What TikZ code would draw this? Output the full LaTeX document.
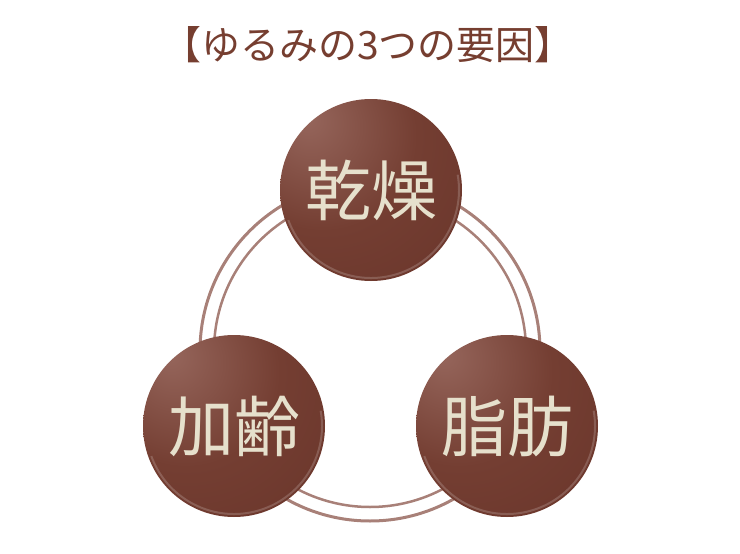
\documentclass[tikz,border=0pt]{standalone}
\usepackage{fontspec}
\setmainfont{Noto Sans CJK JP}
\usetikzlibrary{positioning, calc}
\usepackage{xcolor}

\definecolor{titlebrown}{RGB}{118,62,48}
\definecolor{ringbrown}{RGB}{168,128,120}
\definecolor{balllight}{RGB}{150,102,92}
\definecolor{ballmid}{RGB}{116,62,50}
\definecolor{balldark}{RGB}{102,50,40}
\definecolor{factortext}{RGB}{230,224,204}

\pgfdeclareradialshading{brownball}{\pgfpoint{-18bp}{20bp}}{%
  color(0bp)=(balllight); color(26bp)=(ballmid); color(60bp)=(balldark); color(100bp)=(balldark)}

\begin{document}
\begin{tikzpicture}[x=1pt, y=-1pt,
    heading/.style={font=\fontsize{39}{43}\selectfont, text=titlebrown, inner sep=0pt},
    factor/.style={circle, minimum size=182pt, inner sep=0pt, shading=brownball, text=factortext, font=\fontsize{66}{70}\selectfont},
    ring_outer/.style={draw=ringbrown, line width=3pt},
    ring_inner/.style={draw=ringbrown, line width=2.5pt},
    gloss/.style={draw=white, opacity=.18, line width=2pt}
]
\useasboundingbox (0,0) rectangle (740,554);

\node[heading] (title) at (368,45) {【ゆるみの3つの要因】};

% double ring behind the three causes
\coordinate (hub) at (370,351);
\draw[ring_outer] (hub) circle[radius=170pt];
\draw[ring_inner] (hub) circle[radius=156pt];

\node[factor] (dryness) at (371,190) {乾燥};
\node[factor] (aging) at (234,426) {加齢};
\node[factor] (fat) at (507,426) {脂肪};

% light rim on the lower edge
\draw[gloss] ($(dryness.center)+(-160:88pt)$) arc[start angle=-160, end angle=10, radius=88pt];
\draw[gloss] ($(aging.center)+(-160:88pt)$) arc[start angle=-160, end angle=10, radius=88pt];
\draw[gloss] ($(fat.center)+(-160:88pt)$) arc[start angle=-160, end angle=10, radius=88pt];

\end{tikzpicture}
\end{document}
